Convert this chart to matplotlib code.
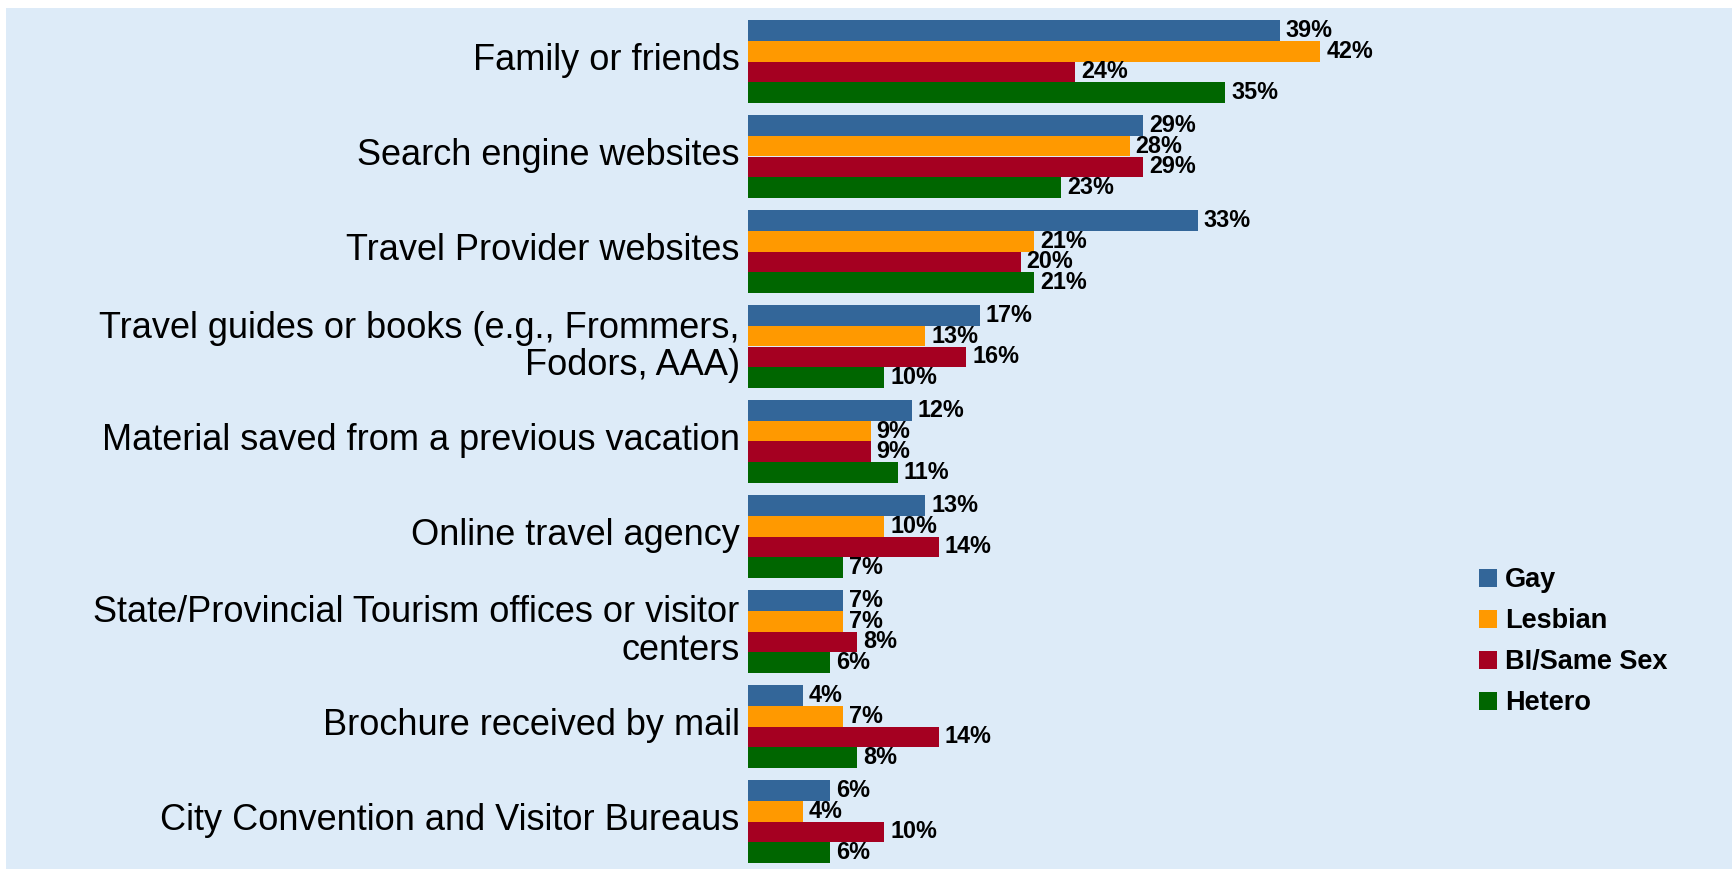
import matplotlib.pyplot as plt
import matplotlib.transforms as mtransforms
import numpy as np
from matplotlib.patches import Rectangle

categories = [
    'Family or friends',
    'Search engine websites',
    'Travel Provider websites',
    'Travel guides or books (e.g., Frommers,\nFodors, AAA)',
    'Material saved from a previous vacation',
    'Online travel agency',
    'State/Provincial Tourism offices or visitor\ncenters',
    'Brochure received by mail',
    'City Convention and Visitor Bureaus',
]
series_names = ['Gay', 'Lesbian', 'BI/Same Sex', 'Hetero']
gay = [39, 29, 33, 17, 12, 13, 7, 4, 6]
lesbian = [42, 28, 21, 13, 9, 10, 7, 7, 4]
bi_same_sex = [24, 29, 20, 16, 9, 14, 8, 14, 10]
hetero = [35, 23, 21, 10, 11, 7, 6, 8, 6]

colors = ['#336699', '#FF9900', '#A50021', '#006600']
bg = '#DDEBF8'

plt.rcParams['font.family'] = ['Liberation Sans', 'DejaVu Sans']

fig = plt.figure(figsize=(17.33, 8.69), dpi=100)
fig.patch.set_facecolor('white')
fig.patches.append(Rectangle((6 / 1733, 0), 1, 1 - 8 / 869, transform=fig.transFigure,
                             facecolor=bg, edgecolor='none', zorder=-10))

ax = fig.add_axes([748 / 1733, 0.0, 672 / 1733, (869 - 14) / 869])
ax.set_facecolor('none')

y = np.arange(len(categories))
h = 0.219
all_series = [gay, lesbian, bi_same_sex, hetero]
for i, (vals, name, c) in enumerate(zip(all_series, series_names, colors)):
    pos = y - 1.5 * h + i * h
    bars = ax.barh(pos, vals, height=h, color=c, label=name, edgecolor='none')
    for b, v in zip(bars, vals):
        ax.annotate(f'{v}%', (b.get_width(), b.get_y() + b.get_height() / 2),
                    xytext=(6, 0), textcoords='offset pixels',
                    ha='left', va='center', fontsize=16.8, fontweight='bold')

ax.set_xlim(0, 672 / 13.63)
ax.set_ylim(8.5, -0.5)
ax.set_yticks(y)
ax.set_yticklabels(categories, fontsize=26, linespacing=1.1)
ax.tick_params(axis='y', length=0, pad=6)
# labels sit a little above the group centre in the original
shift = mtransforms.ScaledTranslation(0, 5 / 100, fig.dpi_scale_trans)
for lbl in ax.get_yticklabels():
    lbl.set_transform(lbl.get_transform() + shift)
ax.set_xticks([])
for s in ax.spines.values():
    s.set_visible(False)

leg = fig.legend(loc='upper left', bbox_to_anchor=(1455 / 1733, 1 - 543 / 869),
                 frameon=False, prop={'weight': 'bold', 'size': 19.5},
                 handlelength=0.65, handleheight=0.65, handletextpad=0.3,
                 labelspacing=0.55)

fig.savefig('out.png', dpi=100, facecolor=fig.get_facecolor())
